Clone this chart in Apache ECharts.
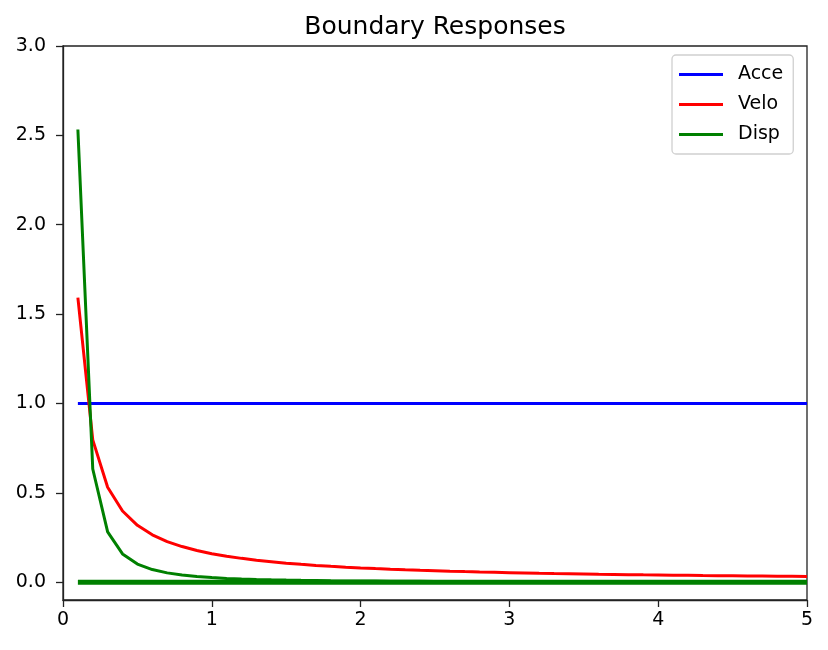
<!DOCTYPE html>
<html>
<head>
<meta charset="utf-8">
<script src="https://cdn.jsdelivr.net/npm/echarts@6/dist/echarts.min.js"></script>
<style>html,body{margin:0;padding:0;background:#fff}#c{width:828px;height:650px}</style>
</head>
<body>
<div id="c"></div>
<script>
var freq = [0.1,0.2,0.3,0.4,0.5,0.6,0.7,0.8,0.9,1.0,1.1,1.2,1.3,1.4,1.5,1.6,1.7,1.8,1.9,2.0,2.1,2.2,2.3,2.4,2.5,2.6,2.7,2.8,2.9,3.0,3.1,3.2,3.3,3.4,3.5,3.6,3.7,3.8,3.9,4.0,4.1,4.2,4.3,4.4,4.5,4.6,4.7,4.8,4.9,5.0];
var acce = [1,1,1,1,1,1,1,1,1,1,1,1,1,1,1,1,1,1,1,1,1,1,1,1,1,1,1,1,1,1,1,1,1,1,1,1,1,1,1,1,1,1,1,1,1,1,1,1,1,1];
var velo = [1.592,0.796,0.531,0.398,0.318,0.265,0.227,0.199,0.177,0.159,0.145,0.133,0.122,0.114,0.106,0.0995,0.0936,0.0884,0.0838,0.0796,0.0758,0.0723,0.0692,0.0663,0.0637,0.0612,0.0589,0.0568,0.0549,0.0531,0.0513,0.0497,0.0482,0.0468,0.0455,0.0442,0.0430,0.0419,0.0408,0.0398,0.0388,0.0379,0.0370,0.0362,0.0354,0.0346,0.0339,0.0332,0.0325,0.0318];
var disp = [2.533,0.633,0.281,0.158,0.101,0.0704,0.0517,0.0396,0.0313,0.0253,0.0209,0.0176,0.0150,0.0129,0.0113,0.0099,0.0088,0.0078,0.0070,0.0063,0.0057,0.0052,0.0048,0.0044,0.0041,0.0038,0.0035,0.0032,0.0030,0.0028,0.0026,0.0025,0.0023,0.0022,0.0021,0.0020,0.0019,0.0018,0.0017,0.0016,0.0015,0.0014,0.0014,0.0013,0.0013,0.0012,0.0012,0.0011,0.0011,0.0010];
var dispBase = [0,0,0,0,0,0,0,0,0,0,0,0,0,0,0,0,0,0,0,0,0,0,0,0,0,0,0,0,0,0,0,0,0,0,0,0,0,0,0,0,0,0,0,0,0,0,0,0,0,0,0];
var yTicks = [0,0.5,1.0,1.5,2.0,2.5,3.0];
var xTicks = [0,1,2,3,4,5];

function pairs(ys){ return freq.map(function(x,i){ return [x, ys[i]]; }); }

var font = 'DejaVu Sans';
var chart = echarts.init(document.getElementById('c'), null, {renderer:'canvas'});
chart.setOption({
  animation:false,
  backgroundColor:'#fff',
  title:{text:'Boundary Responses', left:430, textAlign:'center', top:10, textStyle:{fontFamily:font, fontSize:25, fontWeight:'normal', color:'#000'}},
  grid:{left:63, right:21, top:46, bottom:50, show:true, borderColor:'#222', borderWidth:1.3, backgroundColor:'transparent'},
  legend:{
    orient:'vertical', left:672, top:55,
    data:['Acce','Velo','Disp'],
    icon:'rect', itemWidth:44, itemHeight:3, itemGap:11,
    padding:[10,10,10,7],
    borderColor:'#d0d0d0', borderWidth:1.3, borderRadius:4, backgroundColor:'#fff',
    textStyle:{fontFamily:font, fontSize:19, color:'#000', lineHeight:17, padding:[0,0,0,10]}
  },
  xAxis:{
    type:'value', min:0, max:5, interval:1,
    axisLine:{show:true, onZero:false, lineStyle:{color:'#222', width:1.3}},
    axisTick:{show:true, length:7, lineStyle:{color:'#222', width:1.3}, customValues:xTicks},
    axisLabel:{fontFamily:font, fontSize:19, color:'#000', margin:11, customValues:xTicks},
    splitLine:{show:false}
  },
  yAxis:{
    type:'value', min:-0.1, max:3.0,
    axisLine:{show:true, onZero:false, lineStyle:{color:'#222', width:1.3}},
    axisTick:{show:true, length:7, lineStyle:{color:'#222', width:1.3}, customValues:yTicks},
    axisLabel:{fontFamily:font, fontSize:19, color:'#000', margin:17, customValues:yTicks, formatter:function(v){return v.toFixed(1);}},
    splitLine:{show:false}
  },
  series:[
    {name:'Acce', type:'line', data:pairs(acce), symbol:'none', color:'#0000ff', lineStyle:{width:3, color:'#0000ff'}},
    {name:'Velo', type:'line', data:pairs(velo), symbol:'none', color:'#ff0000', lineStyle:{width:3, color:'#ff0000'}},
    {name:'Disp', type:'line', data:pairs(disp), symbol:'none', color:'#008000', lineStyle:{width:3, color:'#008000'}},
    {name:'Disp', type:'line', data:pairs(dispBase), symbol:'none', color:'#008000', lineStyle:{width:5, color:'#008000'}}
  ]
});
</script>
</body>
</html>
